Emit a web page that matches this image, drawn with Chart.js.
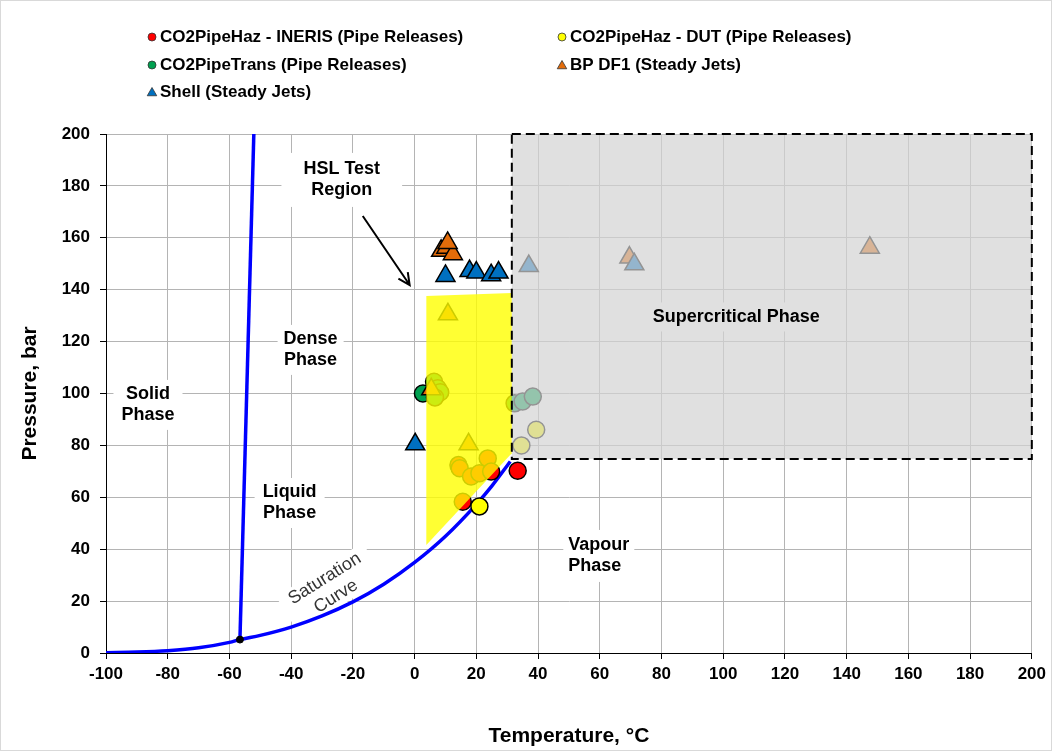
<!DOCTYPE html>
<html>
<head>
<meta charset="utf-8">
<title>CO2 phase diagram</title>
<script src="https://cdn.jsdelivr.net/npm/chart.js@4.4.1/dist/chart.umd.min.js"></script>
<style>
    body { margin: 0; background: #fff; }
    #wrap {
        position: relative;
        width: 1052px;
        height: 751px;
        box-sizing: border-box;
        border: 1px solid #d9d9d9;
    }
</style>
</head>
<body>
<div id="wrap"><canvas id="chart"></canvas></div>
<script>
/* ── Phase boundaries (temperature °C / pressure bar) ── */
const satT = [-100, -90, -80, -70, -60, -56.6, -50, -40, -30, -20, -10, 0, 10, 20, 25, 31];
const satP = [0.14, 0.37, 0.9, 2.0, 4.1, 5.18, 6.8, 10.0, 14.3, 19.7, 26.5, 34.9, 45.0, 57.3, 64.3, 73.8];
const meltT = [-56.6, -52.1];
const meltP = [5.18, 200];
const tripleT = [-56.6];
const tripleP = [5.18];

/* ── Experimental points ── */
const inerisT = [33.4, 14.2, 14.6, 23.7, 18.3, 21.0, 24.8, 15.6];
const inerisP = [70.2, 72.4, 71.2, 75.0, 68.0, 69.3, 69.9, 58.3];
const dutT = [21.0, 34.6, 39.4];
const dutP = [56.5, 80.0, 86.0];
const pipeTransT = [2.7, 6.3, 7.5, 8.3, 6.6, 32.4, 35.0, 38.3];
const pipeTransP = [100.0, 104.5, 102.0, 100.5, 98.5, 96.2, 96.9, 98.8];
const bpT = [5.4, 10.8, 17.5, 8.6, 10.3, 12.4, 10.7, 69.6, 147.5];
const bpP = [101.6, 130.5, 80.4, 155.0, 156.2, 153.7, 158.0, 152.4, 156.2];
const shellT = [0.2, 10.0, 17.8, 20.0, 24.8, 27.2, 37.0, 71.2];
const shellP = [80.4, 145.3, 147.2, 146.6, 145.6, 146.6, 149.1, 149.8];

/* ── Axes ── */
const xTicks = [-100, -80, -60, -40, -20, 0, 20, 40, 60, 80, 100, 120, 140, 160, 180, 200];
const yTicks = [0, 20, 40, 60, 80, 100, 120, 140, 160, 180, 200];

/* ── Shaded regions ── */
const hslRegionT = [3.8, 31.5, 31.5, 3.8];
const hslRegionP = [137.6, 138.7, 77.0, 41.6];
const superT = [31.5, 200];
const superP = [74.8, 200];

const FONT = "'Liberation Sans', Arial, sans-serif";

function pts(xs, ys) {
    return xs.map((x, i) => ({ x, y: ys[i] }));
}

const series = [
    { label: 'CO2PipeHaz - INERIS (Pipe Releases)', t: inerisT, p: inerisP, color: '#ff0000', style: 'circle' },
    { label: 'CO2PipeHaz - DUT (Pipe Releases)', t: dutT, p: dutP, color: '#ffff00', style: 'circle' },
    { label: 'CO2PipeTrans (Pipe Releases)', t: pipeTransT, p: pipeTransP, color: '#00a050', style: 'circle' },
    { label: 'BP DF1 (Steady Jets)', t: bpT, p: bpP, color: '#e36c0a', style: 'triangle' },
    { label: 'Shell (Steady Jets)', t: shellT, p: shellP, color: '#0070c0', style: 'triangle' },
];

// text labels placed in data coordinates
const notes = [
    { lines: ['Solid', 'Phase'], t: -86.4, p: 95.6, padX: 8, padY: 4 },
    { lines: ['Dense', 'Phase'], t: -33.7, p: 116.8, padX: 6, padY: 4 },
    { lines: ['HSL Test', 'Region'], t: -23.6, p: 182.3, padX: 22, padY: 6 },
    { lines: ['Liquid', 'Phase'], t: -40.5, p: 57.8, padX: 8, padY: 4 },
    { lines: ['Vapour', 'Phase'], t: 49.8, p: 37.4, align: 'left', padX: 5, padY: 5 },
    { lines: ['Supercritical Phase'], t: 104.2, p: 129.5, padX: 6, padY: 4 },
    { lines: ['Saturation', 'Curve'], t: -27.3, p: 25.2, rotate: -32, bold: false, color: '#333', padX: 10, padY: 0 },
];
const arrowFrom = { t: -16.8, p: 168.4 };
const arrowTo = { t: -1.6, p: 141.8 };

// ── Marker helper ──
function drawMarker(ctx, style, x, y, r, fill) {
    ctx.beginPath();
    if (style === 'circle') {
        ctx.arc(x, y, r, 0, Math.PI * 2);
    } else {
        ctx.moveTo(x, y - r);
        ctx.lineTo(x + r * 0.866, y + r / 2);
        ctx.lineTo(x - r * 0.866, y + r / 2);
        ctx.closePath();
    }
    ctx.fillStyle = fill;
    ctx.fill();
    ctx.lineWidth = 0.8;
    ctx.strokeStyle = '#333';
    ctx.stroke();
}

// run a callback for each note with the context moved to its anchor
function eachNote(chart, fn) {
    const { ctx, scales: { x, y } } = chart;
    const lh = 21;
    notes.forEach(n => {
        const bold = n.bold !== false;
        ctx.font = `${bold ? 'bold ' : ''}18px ${FONT}`;
        const w = Math.max(...n.lines.map(l => ctx.measureText(l).width));
        const h = n.lines.length * lh;
        ctx.save();
        ctx.translate(x.getPixelForValue(n.t), y.getPixelForValue(n.p));
        if (n.rotate) ctx.rotate(n.rotate * Math.PI / 180);
        fn(n, w, h, lh);
        ctx.restore();
    });
}

// ── Overlays, notes, legend, axis titles ──
const decorations = {
    id: 'decorations',
    beforeDatasetsDraw(chart) {
        const { ctx } = chart;
        // white boxes behind labels hide the gridlines
        eachNote(chart, (n, w, h) => {
            const left = n.align === 'left' ? 0 : -w / 2;
            ctx.fillStyle = '#fff';
            ctx.fillRect(left - n.padX, -h / 2 - n.padY, w + 2 * n.padX, h + 2 * n.padY);
        });
    },
    afterDatasetsDraw(chart) {
        const { ctx, scales: { x, y } } = chart;
        const px = t => x.getPixelForValue(t);
        const py = p => y.getPixelForValue(p);

        ctx.save();
        // HSL test region (translucent yellow)
        ctx.beginPath();
        hslRegionT.forEach((t, i) => {
            if (i === 0) ctx.moveTo(px(t), py(hslRegionP[i]));
            else ctx.lineTo(px(t), py(hslRegionP[i]));
        });
        ctx.closePath();
        ctx.fillStyle = 'rgba(255, 255, 0, 0.8)';
        ctx.fill();

        // Supercritical region (translucent grey)
        const gx = px(superT[0]), gy = py(superP[1]);
        const gw = px(superT[1]) - gx, gh = py(superP[0]) - gy;
        ctx.fillStyle = 'rgba(211, 211, 211, 0.7)';
        ctx.fillRect(gx, gy, gw, gh);
        ctx.setLineDash([9, 5]);
        ctx.lineWidth = 2;
        ctx.strokeStyle = '#000';
        ctx.strokeRect(gx, gy, gw, gh);
        ctx.setLineDash([]);

        // label texts
        eachNote(chart, (n, w, h, lh) => {
            ctx.fillStyle = n.color || '#000';
            ctx.textAlign = n.align === 'left' ? 'left' : 'center';
            ctx.textBaseline = 'middle';
            n.lines.forEach((l, i) => ctx.fillText(l, 0, -h / 2 + lh / 2 + i * lh));
        });

        // arrow to the test region
        const ax0 = px(arrowFrom.t), ay0 = py(arrowFrom.p);
        const ax1 = px(arrowTo.t), ay1 = py(arrowTo.p);
        const ang = Math.atan2(ay1 - ay0, ax1 - ax0);
        ctx.strokeStyle = '#000';
        ctx.lineWidth = 2;
        ctx.beginPath();
        ctx.moveTo(ax0, ay0);
        ctx.lineTo(ax1, ay1);
        ctx.moveTo(ax1 - 13 * Math.cos(ang - 0.45), ay1 - 13 * Math.sin(ang - 0.45));
        ctx.lineTo(ax1, ay1);
        ctx.lineTo(ax1 - 13 * Math.cos(ang + 0.45), ay1 - 13 * Math.sin(ang + 0.45));
        ctx.stroke();
        ctx.restore();
    },
    afterDraw(chart) {
        const { ctx, chartArea } = chart;
        ctx.save();
        // legend, two columns
        ctx.font = `bold 17px ${FONT}`;
        ctx.textBaseline = 'middle';
        ctx.textAlign = 'left';
        const cols = [151, 561];
        const rows = [36, 64, 91];
        series.forEach((s, i) => {
            const cx = cols[i % 2], cy = rows[Math.floor(i / 2)];
            drawMarker(ctx, s.style, cx, cy + (s.style === 'triangle' ? 1 : 0), s.style === 'circle' ? 4 : 5.5, s.color);
            ctx.fillStyle = '#000';
            ctx.fillText(s.label, cx + 8, cy);
        });

        // axis titles
        ctx.font = `bold 21px ${FONT}`;
        ctx.textAlign = 'center';
        ctx.fillText('Temperature, °C', (chartArea.left + chartArea.right) / 2, 735);
        ctx.translate(29, (chartArea.top + chartArea.bottom) / 2);
        ctx.rotate(-Math.PI / 2);
        ctx.fillText('Pressure, bar', 0, 0);
        ctx.restore();
    }
};

Chart.defaults.font.family = FONT;

const datasets = series.map((s, i) => ({
    label: s.label,
    data: pts(s.t, s.p),
    pointStyle: s.style,
    pointRadius: s.style === 'circle' ? 8.5 : 11,
    pointBackgroundColor: s.color,
    pointBorderColor: '#000',
    pointBorderWidth: 1.5,
    showLine: false,
    order: 5 - i,
}));

datasets.push({
    label: 'Triple point',
    data: pts(tripleT, tripleP),
    pointRadius: 3.5,
    pointBackgroundColor: '#000',
    pointBorderColor: '#000',
    showLine: false,
    order: 8,
});
datasets.push({
    label: 'Saturation curve',
    data: pts(satT, satP),
    showLine: true,
    borderColor: '#0000ff',
    borderWidth: 3.5,
    pointRadius: 0,
    cubicInterpolationMode: 'monotone',
    order: 10,
});
datasets.push({
    label: 'Melting line',
    data: pts(meltT, meltP),
    showLine: true,
    borderColor: '#0000ff',
    borderWidth: 3.5,
    pointRadius: 0,
    order: 10,
});

new Chart(document.getElementById('chart'), {
    type: 'scatter',
    data: { datasets },
    options: {
        responsive: true,
        maintainAspectRatio: false,
        animation: false,
        layout: { padding: { top: 133, right: 18, left: 0, bottom: 0 } },
        plugins: {
            legend: { display: false },
            tooltip: { enabled: false },
        },
        scales: {
            x: {
                type: 'linear',
                min: xTicks[0],
                max: xTicks[xTicks.length - 1],
                afterBuildTicks: axis => { axis.ticks = xTicks.map(v => ({ value: v })); },
                afterFit: axis => { axis.height = 97; },
                ticks: {
                    color: '#000',
                    font: { size: 17, weight: 'bold' },
                    padding: 5,
                    maxRotation: 0,
                    autoSkip: false,
                },
                grid: { color: '#b4b4b4', tickColor: '#000', tickLength: 6 },
                border: { color: '#000', width: 1 },
            },
            y: {
                type: 'linear',
                min: yTicks[0],
                max: yTicks[yTicks.length - 1],
                afterBuildTicks: axis => { axis.ticks = yTicks.map(v => ({ value: v })); },
                afterFit: axis => { axis.width = 105; },
                ticks: {
                    color: '#000',
                    font: { size: 17, weight: 'bold' },
                    padding: 10,
                    autoSkip: false,
                },
                grid: { color: '#b4b4b4', tickColor: '#000', tickLength: 6 },
                border: { color: '#000', width: 1 },
            },
        },
    },
    plugins: [decorations],
});
</script>
</body>
</html>
